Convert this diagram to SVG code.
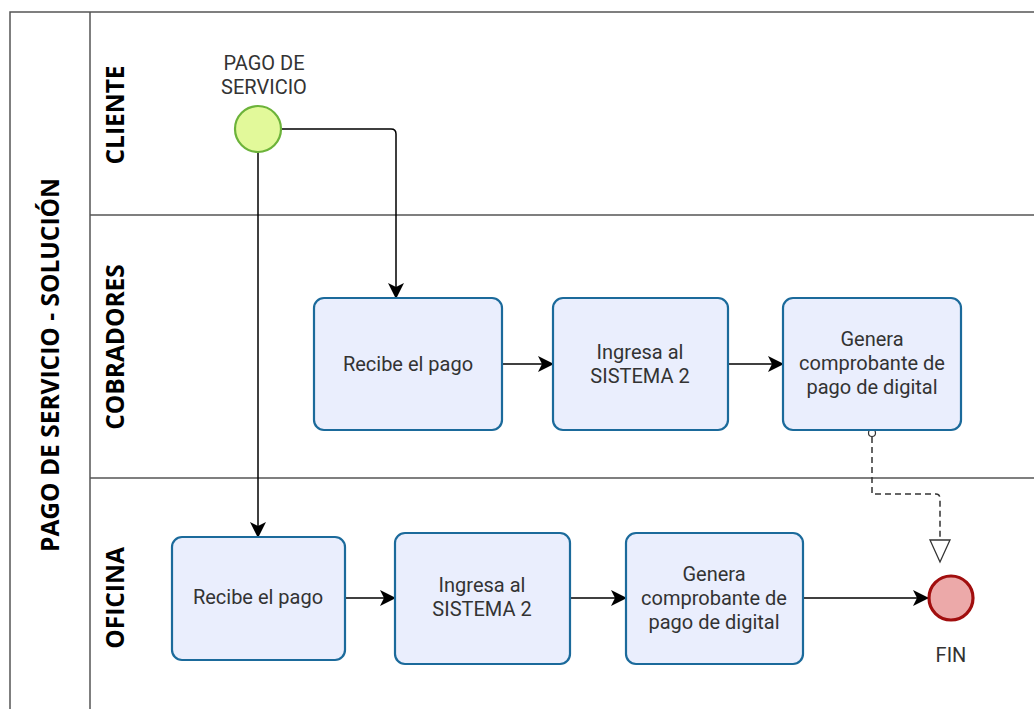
<svg xmlns="http://www.w3.org/2000/svg" width="1034" height="709" viewBox="0 0 1034 709">
<defs>
<style>
.lane{fill:none;stroke:#555;stroke-width:1.5}
.hdr{font-family:"Open Sans","Noto Sans",sans-serif;font-weight:bold;font-size:24.5px;fill:#000;text-anchor:middle}
.task{fill:#eaeefd;stroke:#1b6a9b;stroke-width:2.2}
.t{font-family:Roboto,"Liberation Sans",sans-serif;font-size:20px;fill:#333;text-anchor:middle}
.flow{fill:none;stroke:#000;stroke-width:1.5}
.msg{fill:none;stroke:#333;stroke-width:1.5;stroke-dasharray:6,4}
</style>
<marker id="ah" viewBox="0 0 16 16" refX="15" refY="8" markerWidth="16" markerHeight="16" markerUnits="userSpaceOnUse" orient="auto">
<path d="M0,0 L16,8 L0,16 L4,8 Z" fill="#000"/>
</marker>
</defs>
<rect width="1034" height="709" fill="#fff"/>
<g id="pool">
<path class="lane" d="M1040,12 H10 V715"/>
<line class="lane" x1="90" y1="12" x2="90" y2="715"/>
<line class="lane" x1="90" y1="215" x2="1040" y2="215"/>
<line class="lane" x1="90" y1="478" x2="1040" y2="478"/>
<text class="hdr" transform="translate(59,365) rotate(-90)">PAGO DE SERVICIO - SOLUCIÓN</text>
<text class="hdr" transform="translate(124,115) rotate(-90)">CLIENTE</text>
<text class="hdr" transform="translate(124,347) rotate(-90)">COBRADORES</text>
<text class="hdr" transform="translate(124,598) rotate(-90)">OFICINA</text>
</g>
<g id="connectors">
<path class="flow" d="M281,129 H391 Q396,129 396,134 V298" marker-end="url(#ah)"/>
<path class="flow" d="M258,152 V537" marker-end="url(#ah)"/>
<path class="flow" d="M502,364 H553" marker-end="url(#ah)"/>
<path class="flow" d="M728,364 H783" marker-end="url(#ah)"/>
<path class="flow" d="M345,598 H395" marker-end="url(#ah)"/>
<path class="flow" d="M570,598 H626" marker-end="url(#ah)"/>
<path class="flow" d="M803,598 H928" marker-end="url(#ah)"/>
<circle cx="872" cy="433" r="3.5" fill="#fff" stroke="#333" stroke-width="1.2"/>
<path class="msg" d="M872,437 V494 H936 Q940,494 940,499 V540"/>
<path d="M930,540 L950,540 L940,562 Z" fill="#fff" stroke="#333" stroke-width="1.3"/>
</g>
<g id="start">
<circle cx="258" cy="129" r="23" fill="#e2f99a" stroke="#6cb33a" stroke-width="2.2"/>
<text class="t" x="264" y="70">PAGO DE</text>
<text class="t" x="264" y="94">SERVICIO</text>
</g>
<g id="c1"><rect class="task" x="314" y="298" width="188" height="132" rx="10"/><text class="t" x="408" y="371">Recibe el pago</text></g>
<g id="c2"><rect class="task" x="553" y="298" width="175" height="132" rx="10"/><text class="t" x="640" y="359">Ingresa al</text><text class="t" x="640" y="383">SISTEMA 2</text></g>
<g id="c3"><rect class="task" x="783" y="298" width="178" height="132" rx="10"/><text class="t" x="872" y="346">Genera</text><text class="t" x="872" y="370">comprobante de</text><text class="t" x="872" y="394">pago de digital</text></g>
<g id="o1"><rect class="task" x="172" y="537" width="173" height="123" rx="10"/><text class="t" x="258" y="604">Recibe el pago</text></g>
<g id="o2"><rect class="task" x="395" y="533" width="175" height="131" rx="10"/><text class="t" x="482" y="592">Ingresa al</text><text class="t" x="482" y="616">SISTEMA 2</text></g>
<g id="o3"><rect class="task" x="626" y="533" width="177" height="131" rx="10"/><text class="t" x="714" y="581">Genera</text><text class="t" x="714" y="605">comprobante de</text><text class="t" x="714" y="629">pago de digital</text></g>
<g id="fin">
<circle cx="951" cy="598" r="22" fill="#eca9a9" stroke="#a10e0e" stroke-width="3.2"/>
<text class="t" x="951" y="662">FIN</text>
</g>
</svg>
